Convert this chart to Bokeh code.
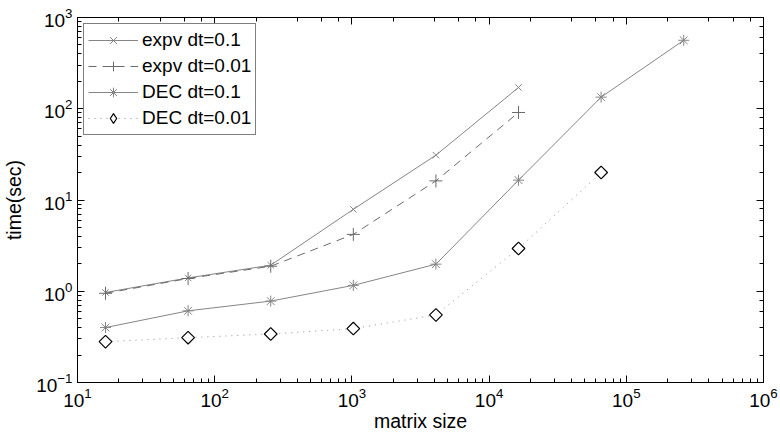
import math
from bokeh.plotting import figure
from bokeh.models import LogAxis, Legend, LegendItem, CustomJSTickFormatter
from bokeh.embed import file_html
from bokeh.resources import INLINE

# Data
matrix_size = [16, 64, 256, 1024, 4096, 16384, 65536, 262144]
expv_01 = [0.97, 1.40, 1.93, 7.9, 31, 171]
expv_001 = [0.95, 1.38, 1.88, 4.2, 16.2, 91]
dec_01 = [0.40, 0.61, 0.78, 1.16, 1.98, 16.5, 134, 563]
dec_001 = [0.28, 0.31, 0.34, 0.39, 0.55, 2.94, 20]

FONT = "Liberation Sans"

p = figure(width=780, height=439, x_axis_type="log", y_axis_type="log",
           x_range=(10, 1e6), y_range=(0.1, 1000),
           output_backend="svg", toolbar_location=None,
           min_border_left=75, min_border_right=17, min_border_top=17, min_border_bottom=57)
p.xgrid.visible = False
p.ygrid.visible = False
p.outline_line_color = "black"
p.outline_line_alpha = 1.0
p.background_fill_color = "white"
p.border_fill_color = "white"

for ax in (p.xaxis[0], p.yaxis[0]):
    ax.major_tick_in = 7
    ax.major_tick_out = 0
    ax.minor_tick_in = 4
    ax.minor_tick_out = 0
    ax.axis_line_color = "black"
    ax.major_tick_line_color = "black"
    ax.minor_tick_line_color = "black"
    ax.major_label_text_font = FONT
    ax.major_label_text_font_size = "19px"
    ax.major_label_text_color = "black"
    ax.axis_label_text_font = FONT
    ax.axis_label_text_font_size = "19.5px"
    ax.axis_label_text_font_style = "normal"
    ax.axis_label_text_color = "black"

p.xaxis.axis_label = "matrix size"
p.yaxis.axis_label = "time(sec)"
p.xaxis.axis_label_standoff = 0
p.yaxis.axis_label_standoff = 8

for loc in ("right", "above"):
    ax = LogAxis(major_tick_in=7, major_tick_out=0, minor_tick_in=4, minor_tick_out=0,
                 axis_line_color="black", major_label_standoff=0,
                 formatter=CustomJSTickFormatter(code="return ''"))
    p.add_layout(ax, loc)

gray = "#858585"

r1l = p.line(matrix_size[:len(expv_01)], expv_01, line_color=gray, line_width=1)
r1m = p.scatter(matrix_size[:len(expv_01)], expv_01, marker="x", size=9,
                line_color=gray, fill_color=None)
r2l = p.line(matrix_size[:len(expv_001)], expv_001, line_color="#6a6a6a", line_width=1,
             line_dash="8 6")
r2m = p.scatter(matrix_size[:len(expv_001)], expv_001, marker="cross", size=13,
                line_color="#6a6a6a", fill_color=None)
r3l = p.line(matrix_size[:len(dec_01)], dec_01, line_color=gray, line_width=1)
r3m = p.scatter(matrix_size[:len(dec_01)], dec_01, marker="asterisk", size=11,
                line_color=gray, fill_color=None)
r4l = p.line(matrix_size[:len(dec_001)], dec_001, line_color="#909090", line_width=1,
             line_dash="1 5")
# rotated square gives MATLAB-like equal-proportion diamond on the plot
r4m = p.scatter(matrix_size[:len(dec_001)], dec_001, marker="square", angle=math.pi / 4,
                size=9, line_color="black", fill_color="white", line_width=1.2)
# legend-only glyph (hidden) so the legend shows a diamond
r4k = p.scatter(matrix_size[:len(dec_001)], dec_001, marker="diamond",
                size=16, line_color="black", fill_color="white", line_width=1.2,
                visible=False)

legend = Legend(items=[
    LegendItem(label="expv dt=0.1", renderers=[r1l, r1m]),
    LegendItem(label="expv dt=0.01", renderers=[r2l, r2m]),
    LegendItem(label="DEC dt=0.1", renderers=[r3l, r3m]),
    LegendItem(label="DEC dt=0.01", renderers=[r4l, r4k]),
], location="top_left")
legend.margin = 6
legend.padding = 4
legend.spacing = 2
legend.glyph_width = 50
legend.glyph_height = 24
legend.label_height = 24
legend.label_standoff = 4
legend.label_text_font = FONT
legend.label_text_font_size = "19px"
legend.label_text_color = "black"
legend.border_line_color = "black"
legend.border_line_width = 1
legend.background_fill_alpha = 1.0
legend.inactive_fill_alpha = 0.0
p.add_layout(legend, "center")

open("out.html", "w").write(file_html(p, INLINE))
